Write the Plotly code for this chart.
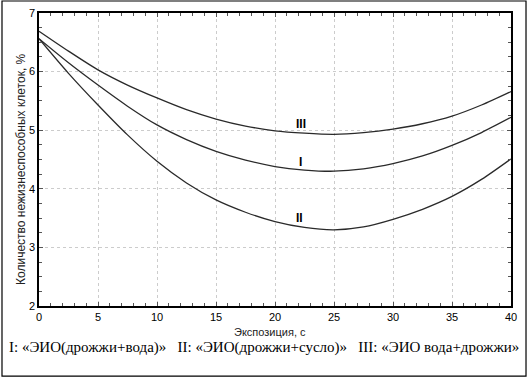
import plotly.graph_objects as go

x_vals = [0, 2.5, 5, 7.5, 10, 12.5, 15, 17.5, 20, 22.5, 25, 27.5, 30, 32.5, 35, 37.5, 40]
series_I = [6.56, 6.15, 5.77, 5.41, 5.09, 4.84, 4.64, 4.49, 4.38, 4.32, 4.30, 4.34, 4.43, 4.56, 4.74, 4.96, 5.22]
series_II = [6.56, 5.97, 5.43, 4.92, 4.47, 4.10, 3.81, 3.60, 3.44, 3.34, 3.30, 3.35, 3.48, 3.65, 3.87, 4.16, 4.51]
series_III = [6.69, 6.35, 6.03, 5.77, 5.55, 5.35, 5.19, 5.07, 4.99, 4.95, 4.93, 4.96, 5.02, 5.11, 5.24, 5.43, 5.66]

curve_labels = ["I", "II", "III"]
label_x = [22.2, 22.1, 22.2]
label_y = [4.45, 3.51, 5.11]

x_ticks = [0, 5, 10, 15, 20, 25, 30, 35, 40]
y_ticks = [2, 3, 4, 5, 6, 7]

x_title = "Экспозиция, с"
y_title = "Количество нежизнеспособных клеток, %"
legend_text = "I: «ЭИО(дрожжи+вода)»   II: «ЭИО(дрожжи+сусло)»   III: «ЭИО вода+дрожжи»"

fig = go.Figure()
for ys in (series_I, series_II, series_III):
    fig.add_trace(go.Scatter(x=x_vals, y=ys, mode="lines",
                             line=dict(color="#2a2a2a", width=1.3, shape="spline", smoothing=0.8),
                             showlegend=False, hoverinfo="skip"))

for t, lx, ly in zip(curve_labels, label_x, label_y):
    fig.add_annotation(x=lx, y=ly, text="<b>" + t + "</b>", showarrow=False, xref="x", yref="y",
                       font=dict(family="Liberation Sans, Arial", size=12, color="#000"))

axis_common = dict(showline=True, linecolor="#000", linewidth=1.5, mirror="allticks",
                   ticks="inside", ticklen=4, tickcolor="#555",
                   showgrid=True, gridcolor="#cccccc", griddash="dot", gridwidth=1,
                   zeroline=False,
                   tickfont=dict(family="Liberation Sans, Arial", size=11, color="#000"))

fig.update_xaxes(range=[0, 40], tickvals=x_ticks, ticktext=[str(v) for v in x_ticks],
                 minor=dict(dtick=1, ticks="inside", ticklen=3, tickcolor="#555", showgrid=False),
                 **axis_common)
fig.update_yaxes(range=[2, 7], tickvals=y_ticks, ticktext=[str(v) for v in y_ticks],
                 minor=dict(dtick=0.25, ticks="inside", ticklen=3, tickcolor="#555", showgrid=False),
                 **axis_common)

fig.add_annotation(x=0.489, y=-0.116, xref="paper", yref="paper", text=x_title, showarrow=False,
                   font=dict(family="Liberation Sans, Arial", size=11, color="#222"))
fig.add_annotation(x=-0.057, y=0.468, xref="paper", yref="paper", text=y_title, showarrow=False,
                   textangle=-90,
                   font=dict(family="Liberation Sans, Arial", size=12, color="#222"))
fig.add_annotation(x=0.477, y=-0.177, xref="paper", yref="paper", text=legend_text, showarrow=False,
                   font=dict(family="Liberation Serif, Times New Roman", size=15, color="#000"))

fig.add_shape(type="rect", xref="paper", yref="paper", x0=-0.0784, x1=1.0318, y0=-0.239, y1=1.041,
              line=dict(color="#000", width=1.2), layer="below")

fig.update_layout(width=530, height=382, margin=dict(l=39, r=19, t=13, b=76, autoexpand=False),
                  paper_bgcolor="white", plot_bgcolor="white")

fig.write_html("out.html", config={"displayModeBar": False},
               post_script="document.body.style.margin='0px';")
